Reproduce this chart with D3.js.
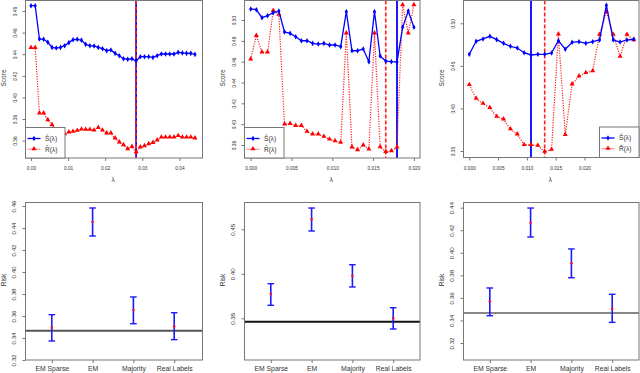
<!DOCTYPE html>
<html>
<head>
	<meta charset="utf-8">
	<title>Score and risk panels</title>
	<style>
		body { margin: 0; background: #fff; }
		svg { font-family: "Liberation Sans", Arial, sans-serif; display: block; }
	</style>
</head>
<body>
	<svg id="chart" width="640" height="373"></svg>
	<script src="https://cdn.jsdelivr.net/npm/d3@7"></script>
	<script>
		// ---- data ----
		var lambda1 = [0, 0.00113, 0.00227, 0.0034, 0.00453, 0.00567, 0.0068, 0.00793, 0.00907, 0.0102,
			0.01133, 0.01247, 0.0136, 0.01473, 0.01587, 0.017, 0.01813, 0.01927, 0.0204, 0.02153,
			0.02267, 0.0238, 0.02493, 0.02607, 0.0272, 0.02833, 0.02947, 0.0306, 0.03173, 0.03287,
			0.034, 0.03513, 0.03627, 0.0374, 0.03853, 0.03967, 0.0408, 0.04193, 0.04307, 0.0442];
		var score1 = [0.4849, 0.4849, 0.4541, 0.4538, 0.4510, 0.4463, 0.4457, 0.4463, 0.4479, 0.4507,
			0.4534, 0.4538, 0.4530, 0.4491, 0.4479, 0.4476, 0.4463, 0.4451, 0.4433, 0.4439,
			0.4408, 0.4386, 0.4358, 0.4353, 0.4358, 0.4337, 0.4377, 0.4377, 0.4377, 0.4370,
			0.4386, 0.4402, 0.4402, 0.4402, 0.4402, 0.4417, 0.4412, 0.4408, 0.4408, 0.4398];
		var rhat1 = [0.4460, 0.4460, 0.3853, 0.3853, 0.3791, 0.3744, 0.3701, 0.3689, 0.3661, 0.3677,
			0.3683, 0.3692, 0.3704, 0.3701, 0.3701, 0.3695, 0.3719, 0.3695, 0.3668, 0.3668,
			0.3621, 0.3584, 0.3559, 0.3522, 0.3543, 0.3492, 0.3538, 0.3550, 0.3568, 0.3580,
			0.3603, 0.3630, 0.3630, 0.3630, 0.3630, 0.3643, 0.3630, 0.3630, 0.3630, 0.3621];

		var lambda2 = [0, 0.00069, 0.00138, 0.00207, 0.00276, 0.00345, 0.00414, 0.00483, 0.00552, 0.00621,
			0.0069, 0.00759, 0.00828, 0.00897, 0.00966, 0.01034, 0.01103, 0.01172, 0.01241, 0.0131,
			0.01379, 0.01448, 0.01517, 0.01586, 0.01655, 0.01724, 0.01793, 0.01862, 0.01931, 0.02];
		var score2 = [0.5106, 0.5099, 0.5022, 0.5041, 0.5070, 0.5086, 0.4885, 0.4872, 0.4839, 0.4801,
			0.4801, 0.4776, 0.4769, 0.4776, 0.4760, 0.4760, 0.4744, 0.5080, 0.4705, 0.4705,
			0.4722, 0.4600, 0.5080, 0.4654, 0.4606, 0.4600, 0.4597, 0.4930, 0.5086, 0.4930];
		var rhat2 = [0.4623, 0.4849, 0.4690, 0.4690, 0.5089, 0.5051, 0.3999, 0.4004, 0.3985, 0.3985,
			0.3928, 0.3903, 0.3903, 0.3880, 0.3854, 0.3838, 0.3822, 0.4872, 0.3778, 0.3752,
			0.3797, 0.3759, 0.4872, 0.3780, 0.3735, 0.3742, 0.3778, 0.5144, 0.4872, 0.5144];

		var lambda3 = [0, 0.00119, 0.00238, 0.00357, 0.00476, 0.00595, 0.00714, 0.00833, 0.00952, 0.01071,
			0.0119, 0.01309, 0.01428, 0.01547, 0.01666, 0.01785, 0.01904, 0.02023, 0.02142, 0.02261,
			0.0238, 0.02499, 0.02618, 0.02737, 0.02856];
		var score3 = [0.4636, 0.4789, 0.4816, 0.4847, 0.4808, 0.4765, 0.4730, 0.4710, 0.4655, 0.4628,
			0.4636, 0.4636, 0.4651, 0.4796, 0.4695, 0.4777, 0.4784, 0.4765, 0.4784, 0.4804,
			0.5211, 0.4804, 0.4780, 0.4804, 0.4812];
		var rhat3 = [0.4276, 0.4115, 0.4056, 0.4006, 0.3904, 0.3873, 0.3756, 0.3697, 0.3572, 0.3572,
			0.3563, 0.3493, 0.3516, 0.4871, 0.3689, 0.4284, 0.4378, 0.4417, 0.4440, 0.4866,
			0.5133, 0.4866, 0.4608, 0.4866, 0.4804];

		var methods = ["EM Sparse", "EM", "Majority", "Real Labels"];
		var risk1 = [0.3494, 0.4455, 0.3655, 0.3506];
		var riskLo1 = [0.3373, 0.4327, 0.3530, 0.3385];
		var riskHi1 = [0.3612, 0.4582, 0.3773, 0.3630];
		var base1 = 0.3467;

		var risk2 = [0.3773, 0.4612, 0.3979, 0.3500];
		var riskLo2 = [0.3646, 0.4481, 0.3852, 0.3380];
		var riskHi2 = [0.3889, 0.4739, 0.4102, 0.3619];
		var base2 = 0.3462;

		var risk3 = [0.3570, 0.4267, 0.3907, 0.3504];
		var riskLo3 = [0.3442, 0.4140, 0.3779, 0.3383];
		var riskHi3 = [0.3688, 0.4397, 0.4034, 0.3632];
		var base3 = 0.3466;

		var ticks1 = [0, 0.01, 0.02, 0.03, 0.04];
		var ticks2 = [0, 0.005, 0.01, 0.015, 0.02];
		var ticks3 = [0, 0.005, 0.01, 0.015, 0.02];

		var svg = d3.select('#chart');
		var boxColor = '#777';
		var textColor = '#333';

		// rotated y tick labels, R style
		function yAxis(g, y, values, fmt, fontSize, offset) {
			var ax = g.append('g')
				.call(d3.axisLeft(y).tickValues(values).tickFormat(fmt).tickSize(3).tickSizeOuter(0));
			ax.select('.domain').remove();
			ax.selectAll('line').attr('stroke', boxColor);
			ax.selectAll('text')
				.attr('transform', 'rotate(-90)')
				.attr('x', 0)
				.attr('y', -offset)
				.attr('dy', 0)
				.attr('text-anchor', 'middle')
				.attr('fill', textColor)
				.style('font-size', fontSize + 'px');
			return ax;
		}

		function drawScore(p) {
			var g = svg.append('g');
			var x = d3.scaleLinear().domain(p.xDomain).range(p.xRange);
			var y = d3.scaleLinear().domain(p.yDomain).range(p.yRange);

			// x axis
			var xa = g.append('g')
				.attr('transform', 'translate(0,' + p.bottom + ')')
				.call(d3.axisBottom(x).tickValues(p.xTicks).tickFormat(d3.format(p.xFmt)).tickSize(3).tickSizeOuter(0));
			xa.select('.domain').remove();
			xa.selectAll('line').attr('stroke', boxColor);
			xa.selectAll('text').attr('y', 12).attr('dy', 0).attr('fill', textColor).style('font-size', '4.8px');

			yAxis(g, y, p.yTicks, d3.format('.2f'), 4.8, 8.8).attr('transform', 'translate(' + p.left + ',0)');

			g.append('text')
				.attr('x', (p.left + p.right) / 2 - 1)
				.attr('y', 182)
				.attr('text-anchor', 'middle')
				.attr('fill', textColor)
				.style('font-size', '6.5px')
				.text('λ');
			g.append('text')
				.attr('transform', 'translate(' + (p.left - 19.5) + ',78) rotate(-90)')
				.attr('text-anchor', 'middle')
				.attr('fill', textColor)
				.style('font-size', '6.5px')
				.text('Score');

			// vertical lines at the minimisers
			g.append('line')
				.attr('x1', x(p.lambda[p.sMin])).attr('x2', x(p.lambda[p.sMin]))
				.attr('y1', p.top).attr('y2', p.bottom)
				.attr('stroke', '#0000ff').attr('stroke-width', 1.8);
			g.append('line')
				.attr('x1', x(p.lambda[p.rMin])).attr('x2', x(p.lambda[p.rMin]))
				.attr('y1', p.top).attr('y2', p.bottom)
				.attr('stroke', '#ff2020').attr('stroke-width', 1.6)
				.attr('stroke-dasharray', '4,2');

			var line = d3.line()
				.x(function (d, i) { return x(p.lambda[i]); })
				.y(function (d) { return y(d); });

			g.append('path')
				.datum(p.R)
				.attr('d', line)
				.attr('fill', 'none')
				.attr('stroke', '#ff2020')
				.attr('stroke-width', 1.2)
				.attr('stroke-dasharray', '1.2,1.3');
			g.selectAll('.tri')
				.data(p.R)
				.enter()
				.append('path')
				.attr('d', d3.symbol().type(d3.symbolTriangle).size(11))
				.attr('transform', function (d, i) { return 'translate(' + x(p.lambda[i]) + ',' + (y(d) - 0.3) + ')'; })
				.attr('fill', '#ff0000');

			g.append('path')
				.datum(p.S)
				.attr('d', line)
				.attr('fill', 'none')
				.attr('stroke', '#0000ff')
				.attr('stroke-width', 1.3);
			g.selectAll('.dia')
				.data(p.S)
				.enter()
				.append('path')
				.attr('d', d3.symbol().type(d3.symbolDiamond).size(9))
				.attr('transform', function (d, i) { return 'translate(' + x(p.lambda[i]) + ',' + y(d) + ')'; })
				.attr('fill', '#0000ff');

			// box
			g.append('rect')
				.attr('x', p.left).attr('y', p.top)
				.attr('width', p.right - p.left).attr('height', p.bottom - p.top)
				.attr('fill', 'none').attr('stroke', boxColor);

			// legend
			var lg = g.append('g').attr('transform', 'translate(' + p.legendX + ',' + (p.bottom - 30.5) + ')');
			lg.append('rect')
				.attr('width', 39.5).attr('height', 30.5)
				.attr('fill', '#fff').attr('stroke', boxColor);
			lg.append('line').attr('x1', 2).attr('x2', 15).attr('y1', 11).attr('y2', 11)
				.attr('stroke', '#0000ff').attr('stroke-width', 1.3);
			lg.append('path').attr('d', d3.symbol().type(d3.symbolDiamond).size(9))
				.attr('transform', 'translate(8.5,11)').attr('fill', '#0000ff');
			lg.append('line').attr('x1', 2).attr('x2', 15).attr('y1', 21.7).attr('y2', 21.7)
				.attr('stroke', '#ff8080').attr('stroke-width', 1);
			lg.append('path').attr('d', d3.symbol().type(d3.symbolTriangle).size(11))
				.attr('transform', 'translate(8.5,21.4)').attr('fill', '#ff0000');
			lg.append('text').attr('x', 19.5).attr('y', 13.4)
				.attr('fill', textColor).style('font-size', '6.6px').text('S\u0302(λ)');
			lg.append('text').attr('x', 19.5).attr('y', 24.1)
				.attr('fill', textColor).style('font-size', '6.6px').text('R\u0302(λ)');
		}

		function drawRisk(p) {
			var g = svg.append('g');
			var x = d3.scalePoint().domain(methods).range([p.left + 26.3, p.left + 148.7]);
			var y = d3.scaleLinear().domain(p.yDomain).range(p.yRange);

			var xa = g.append('g')
				.attr('transform', 'translate(0,' + p.bottom + ')')
				.call(d3.axisBottom(x).tickSize(3).tickSizeOuter(0));
			xa.select('.domain').remove();
			xa.selectAll('line').attr('stroke', boxColor);
			xa.selectAll('text').attr('y', 10.7).attr('dy', 0).attr('fill', textColor).style('font-size', '6.8px');

			yAxis(g, y, p.yTicks, d3.format('.2f'), 6.2, 9.3).attr('transform', 'translate(' + p.left + ',0)');

			g.append('text')
				.attr('transform', 'translate(' + (p.left - 19.8) + ',280) rotate(-90)')
				.attr('text-anchor', 'middle')
				.attr('fill', textColor)
				.style('font-size', '6.5px')
				.text('Risk');

			g.append('line')
				.attr('x1', p.left).attr('x2', p.right)
				.attr('y1', y(p.base)).attr('y2', y(p.base))
				.attr('stroke', p.baseColor).attr('stroke-width', p.baseWidth);

			var bars = g.selectAll('.bar')
				.data(methods)
				.enter()
				.append('g');
			bars.append('line')
				.attr('x1', function (d) { return x(d); }).attr('x2', function (d) { return x(d); })
				.attr('y1', function (d, i) { return y(p.lo[i]); })
				.attr('y2', function (d, i) { return y(p.hi[i]); })
				.attr('stroke', '#1a1aff').attr('stroke-width', 1.6);
			bars.append('line')
				.attr('x1', function (d) { return x(d) - 3.3; }).attr('x2', function (d) { return x(d) + 3.3; })
				.attr('y1', function (d, i) { return y(p.lo[i]); })
				.attr('y2', function (d, i) { return y(p.lo[i]); })
				.attr('stroke', '#1a1aff').attr('stroke-width', 1.4);
			bars.append('line')
				.attr('x1', function (d) { return x(d) - 3.3; }).attr('x2', function (d) { return x(d) + 3.3; })
				.attr('y1', function (d, i) { return y(p.hi[i]); })
				.attr('y2', function (d, i) { return y(p.hi[i]); })
				.attr('stroke', '#1a1aff').attr('stroke-width', 1.4);
			bars.append('circle')
				.attr('cx', function (d) { return x(d); })
				.attr('cy', function (d, i) { return y(p.mean[i]); })
				.attr('r', 1.3)
				.attr('fill', '#ff1030');

			g.append('rect')
				.attr('x', p.left).attr('y', p.top)
				.attr('width', p.right - p.left).attr('height', p.bottom - p.top)
				.attr('fill', 'none').attr('stroke', boxColor);
		}

		drawScore({
			left: 25.5, right: 202.5, top: 0.5, bottom: 158,
			xDomain: [0, 0.04], xRange: [31, 179.4], xTicks: ticks1, xFmt: '.2f',
			yDomain: [0.36, 0.48], yRange: [140.6, 11], yTicks: [0.36, 0.38, 0.40, 0.42, 0.44, 0.46, 0.48],
			lambda: lambda1, S: score1, R: rhat1, sMin: 25, rMin: 25, legendX: 25.5
		});
		drawScore({
			left: 244.5, right: 420, top: 0.5, bottom: 158,
			xDomain: [0, 0.02], xRange: [250.7, 413.9], xTicks: ticks2, xFmt: '.3f',
			yDomain: [0.38, 0.50], yRange: [145, 20], yTicks: [0.38, 0.40, 0.42, 0.44, 0.46, 0.48, 0.50],
			lambda: lambda2, S: score2, R: rhat2, sMin: 26, rMin: 24, legendX: 244.5
		});
		drawScore({
			left: 463.5, right: 639, top: 0.5, bottom: 157.5,
			xDomain: [0, 0.02], xRange: [469.3, 584.5], xTicks: ticks3, xFmt: '.3f',
			yDomain: [0.35, 0.50], yRange: [151, 23.3], yTicks: [0.35, 0.40, 0.45, 0.50],
			lambda: lambda3, S: score3, R: rhat3, sMin: 9, rMin: 11, legendX: 599.5
		});

		drawRisk({
			left: 25.5, right: 202.5, top: 202.5, bottom: 360,
			yDomain: [0.32, 0.46], yRange: [360, 206], yTicks: [0.32, 0.34, 0.36, 0.38, 0.40, 0.42, 0.44, 0.46],
			mean: risk1, lo: riskLo1, hi: riskHi1, base: base1, baseColor: '#555', baseWidth: 2
		});
		drawRisk({
			left: 244.5, right: 420, top: 202.5, bottom: 360,
			yDomain: [0.35, 0.45], yRange: [318.3, 229.3], yTicks: [0.35, 0.40, 0.45],
			mean: risk2, lo: riskLo2, hi: riskHi2, base: base2, baseColor: '#111', baseWidth: 2
		});
		drawRisk({
			left: 463.5, right: 639, top: 202.5, bottom: 360,
			yDomain: [0.32, 0.44], yRange: [343, 207.7], yTicks: [0.32, 0.34, 0.36, 0.38, 0.40, 0.42, 0.44],
			mean: risk3, lo: riskLo3, hi: riskHi3, base: base3, baseColor: '#111', baseWidth: 1.2
		});
	</script>
</body>
</html>
